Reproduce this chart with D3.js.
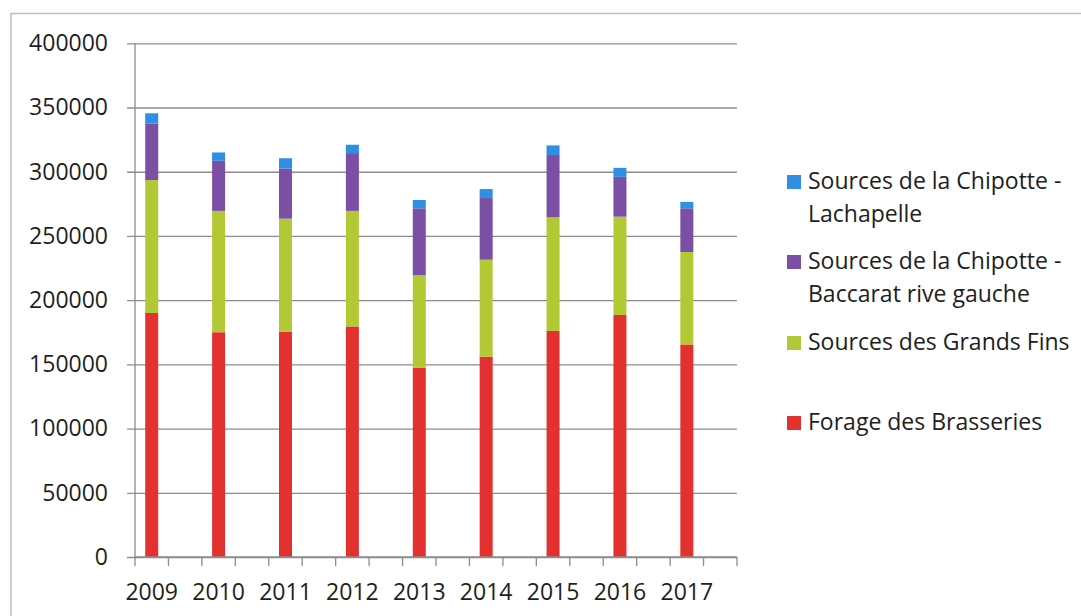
<!DOCTYPE html>
<html>
<head>
<meta charset="utf-8">
<script src="https://cdn.jsdelivr.net/npm/d3@7/dist/d3.min.js"></script>
<style>
  html, body { margin: 0; padding: 0; background: #fff; }
  svg { display: block; font-family: "Open Sans", "Noto Sans", sans-serif; }
</style>
</head>
<body>
<svg id="chart" width="1081" height="616"></svg>
<script>
// Annual volumes per water source (m³)
const years = ["2009", "2010", "2011", "2012", "2013", "2014", "2015", "2016", "2017"];
const forageBrasseries = [190000, 175000, 175500, 179500, 147500, 156000, 176000, 188500, 165500];
const sourcesGrandsFins = [103500, 94500, 88000, 90000, 72000, 75500, 88500, 76500, 72000];
const chipotteBaccarat = [44000, 39000, 39000, 45000, 52000, 48000, 48500, 31000, 34000];
const chipotteLachapelle = [8000, 6500, 8000, 6500, 6500, 7000, 7500, 7000, 5000];
const yTicks = [0, 50000, 100000, 150000, 200000, 250000, 300000, 350000, 400000];

const seriesKeys = ["forage", "grandsFins", "baccarat", "lachapelle"];
const seriesColors = ["#e3312f", "#b3c835", "#7b4fa3", "#2f8fe2"];

const rows = years.map((yr, i) => ({
  year: yr,
  forage: forageBrasseries[i],
  grandsFins: sourcesGrandsFins[i],
  baccarat: chipotteBaccarat[i],
  lachapelle: chipotteLachapelle[i]
}));

const fontFamily = '"Open Sans", "Noto Sans", sans-serif';
const svg = d3.select("#chart");
const plotLeft = 135, plotRight = 737, plotTop = 43.3, plotBottom = 557;

const x = d3.scaleBand().domain(years).range([plotLeft, plotRight]).padding(0);
const y = d3.scaleLinear().domain([0, 400000]).range([plotBottom, plotTop]);
const color = d3.scaleOrdinal().domain(seriesKeys).range(seriesColors);
const bw = x.bandwidth();
const barW = 13;
const barCenter = d => x(d) + bw / 4;

// outer frame (top and left edges)
svg.append("path")
  .attr("d", "M11,616 V13.5 H1081")
  .attr("fill", "none")
  .attr("stroke", "#bdbdbd")
  .attr("stroke-width", 1.5);

// horizontal gridlines with left tick marks
const yAxis = d3.axisLeft(y).tickValues(yTicks).tickSize(-(plotRight - plotLeft)).tickSizeOuter(0)
  .tickFormat(d3.format("d")).tickPadding(27);
const gy = svg.append("g").attr("transform", `translate(${plotLeft},0)`).call(yAxis)
  .attr("font-family", fontFamily);
gy.select(".domain").remove();
gy.selectAll(".tick line")
  .attr("x1", -8)
  .attr("stroke", "#8c8c8c")
  .attr("stroke-width", 1.3);
gy.selectAll(".tick text")
  .attr("fill", "#1e1e1e")
  .style("font-size", "23px");

// y axis line
svg.append("line")
  .attr("x1", plotLeft).attr("x2", plotLeft)
  .attr("y1", plotTop).attr("y2", plotBottom)
  .attr("stroke", "#8c8c8c").attr("stroke-width", 1.3);

// stacked bars
const stack = d3.stack().keys(seriesKeys);
const layers = stack(rows);
svg.append("g").selectAll("g")
  .data(layers)
  .join("g")
  .attr("fill", d => color(d.key))
  .selectAll("rect")
  .data(d => d)
  .join("rect")
  .attr("x", d => barCenter(d.data.year) - barW / 2)
  .attr("width", barW)
  .attr("y", d => y(d[1]))
  .attr("height", d => y(d[0]) - y(d[1]));

// x axis: baseline, half-band tick marks and year labels
const tickPos = d3.scaleLinear().domain([0, years.length * 2]).range([plotLeft, plotRight]);
const gx = svg.append("g");
gx.append("line")
  .attr("x1", plotLeft).attr("x2", plotRight)
  .attr("y1", plotBottom).attr("y2", plotBottom)
  .attr("stroke", "#8c8c8c").attr("stroke-width", 1.3);
gx.selectAll("line.tk")
  .data(d3.range(0, years.length * 2 + 1))
  .join("line")
  .attr("class", "tk")
  .attr("x1", d => tickPos(d)).attr("x2", d => tickPos(d))
  .attr("y1", plotBottom).attr("y2", plotBottom + 9)
  .attr("stroke", "#8c8c8c").attr("stroke-width", 1.3);
gx.selectAll("text")
  .data(years)
  .join("text")
  .attr("x", d => barCenter(d))
  .attr("y", 600)
  .attr("text-anchor", "middle")
  .attr("fill", "#1e1e1e")
  .style("font-size", "23px")
  .text(d => d);

// legend (top series first)
const legendItems = [
  { key: "lachapelle", lines: ["Sources de la Chipotte -", "Lachapelle"], base: 189 },
  { key: "baccarat", lines: ["Sources de la Chipotte -", "Baccarat rive gauche"], base: 269 },
  { key: "grandsFins", lines: ["Sources des Grands Fins"], base: 350 },
  { key: "forage", lines: ["Forage des Brasseries"], base: 430 }
];
const lg = svg.append("g");
legendItems.forEach(item => {
  lg.append("rect")
    .attr("x", 787).attr("y", item.base - 14)
    .attr("width", 14).attr("height", 14)
    .attr("fill", color(item.key));
  const t = lg.append("text")
    .attr("x", 808).attr("y", item.base)
    .attr("fill", "#1e1e1e")
    .style("font-size", "23px");
  item.lines.forEach((ln, i) => {
    t.append("tspan").attr("x", 808).attr("dy", i === 0 ? 0 : 32.5).text(ln);
  });
});
</script>
</body>
</html>
